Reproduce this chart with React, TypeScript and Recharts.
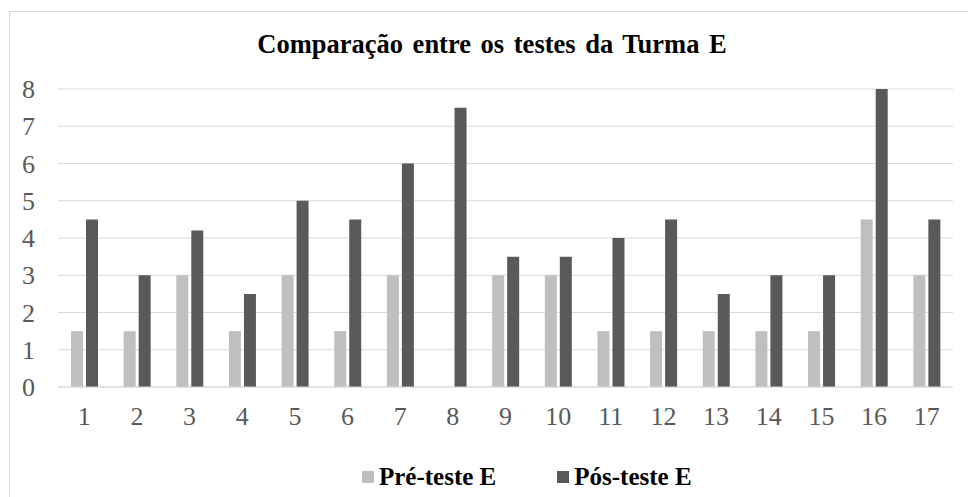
import { Bar, BarChart, CartesianGrid, Legend, XAxis, YAxis } from "recharts";

const alunos = ["1", "2", "3", "4", "5", "6", "7", "8", "9", "10", "11", "12", "13", "14", "15", "16", "17"];
const preTeste = [1.5, 1.5, 3, 1.5, 3, 1.5, 3, 0, 3, 3, 1.5, 1.5, 1.5, 1.5, 1.5, 4.5, 3];
const posTeste = [4.5, 3, 4.2, 2.5, 5, 4.5, 6, 7.5, 3.5, 3.5, 4, 4.5, 2.5, 3, 3, 8, 4.5];
const yTicks = [0, 1, 2, 3, 4, 5, 6, 7, 8];

const PRE_COLOR = "#bfbfbf";
const POS_COLOR = "#595959";
const FONT = "'Liberation Serif', 'Times New Roman', serif";

const data = alunos.map((a, i) => ({ aluno: a, pre: preTeste[i], pos: posTeste[i] }));

function LegendContent() {
  const items = [
    { label: "Pré-teste E", color: PRE_COLOR },
    { label: "Pós-teste E", color: POS_COLOR },
  ];
  return (
    <div style={{ display: "flex", height: 30, alignItems: "center", paddingLeft: 362 }}>
      {items.map((it, i) => (
        <div key={i} style={{ display: "flex", alignItems: "center", marginRight: i === 0 ? 61 : 0 }}>
          <span style={{ width: 12, height: 12, background: it.color, marginRight: 5 }} />
          <span style={{ fontFamily: FONT, fontWeight: "bold", fontSize: 25, color: "#000" }}>{it.label}</span>
        </div>
      ))}
    </div>
  );
}

export default function App() {
  return (
    <div style={{ position: "absolute", left: 0, top: 0, width: 968, height: 497, overflow: "hidden", background: "#fff" }}>
      <div
        style={{
          position: "absolute",
          left: 9,
          top: 11,
          width: 990,
          height: 520,
          border: "1px solid #d9d9d9",
          boxSizing: "border-box",
        }}
      />
      <div
        style={{
          position: "absolute",
          left: 9,
          top: 28,
          width: 966,
          textAlign: "center",
          fontFamily: FONT,
          fontWeight: "bold",
          fontSize: 26.5,
          wordSpacing: 3,
          color: "#000",
          lineHeight: "32px",
        }}
      >
        Comparação entre os testes da Turma E
      </div>
      <div style={{ position: "absolute", left: 0, top: 0 }}>
        <BarChart
          width={968}
          height={497}
          data={data}
          margin={{ top: 89, right: 15, left: 0, bottom: 5 }}
          barSize={12}
          barGap={3}
        >
          <CartesianGrid vertical={false} stroke="#d9d9d9" />
          <XAxis
            dataKey="aluno"
            height={75}
            tickLine={false}
            axisLine={{ stroke: "#d9d9d9" }}
            tickMargin={14}
            tick={{ fill: "#595959", fontFamily: FONT, fontSize: 26 }}
          />
          <YAxis
            width={58}
            domain={[0, 8]}
            ticks={yTicks}
            axisLine={false}
            tickLine={false}
            tickMargin={17}
            tick={{ fill: "#595959", fontFamily: FONT, fontSize: 26 }}
          />
          <Legend verticalAlign="bottom" content={<LegendContent />} />
          <Bar dataKey="pre" name="Pré-teste E" fill={PRE_COLOR} isAnimationActive={false} />
          <Bar dataKey="pos" name="Pós-teste E" fill={POS_COLOR} isAnimationActive={false} />
        </BarChart>
      </div>
    </div>
  );
}
